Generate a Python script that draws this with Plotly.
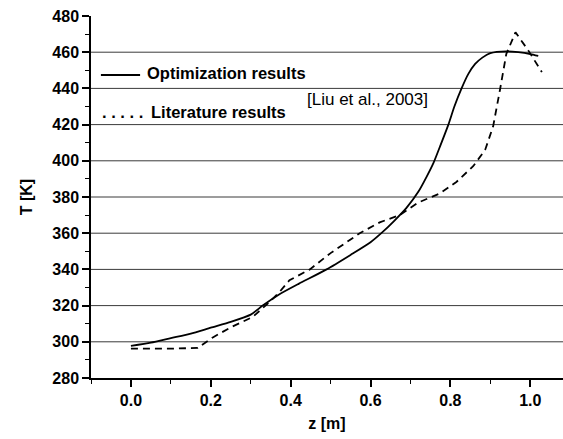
import plotly.graph_objects as go

# Optimization results
z_opt = [0.00, 0.05, 0.10, 0.15, 0.20, 0.25, 0.30, 0.33, 0.37, 0.42, 0.49, 0.55, 0.60, 0.627,
         0.66, 0.69, 0.72, 0.74, 0.758, 0.775, 0.795, 0.81, 0.828, 0.845, 0.862, 0.88, 0.90, 0.94, 0.97, 1.00, 1.02]
T_opt = [297.7, 299.5, 302.0, 304.5, 307.8, 311.0, 315.0, 320.0, 326.0, 332.0, 340.0, 348.0, 355.0, 360.0,
         367.0, 374.0, 383.0, 391.0, 399.0, 408.5, 420.0, 430.0, 440.0, 448.0, 453.5, 457.0, 459.5, 460.5, 460.0, 459.0, 458.0]

# Literature results [Liu et al., 2003]
z_lit = [0.00, 0.05, 0.10, 0.167, 0.204, 0.25, 0.305, 0.347, 0.372, 0.397, 0.448, 0.50, 0.54, 0.573,
         0.623, 0.673, 0.72, 0.774, 0.815, 0.857, 0.887, 0.907, 0.924, 0.94, 0.963, 0.995, 1.029]
T_lit = [296.2, 296.0, 296.2, 296.6, 302.3, 308.0, 313.7, 322.0, 327.5, 334.0, 340.0, 349.0, 355.0, 360.0,
         366.0, 370.0, 377.0, 382.0, 388.3, 397.0, 406.0, 419.0, 439.0, 459.0, 471.0, 461.0, 449.0]

grid_T = [300, 320, 340, 360, 380, 400, 420, 440, 460]
x_ticks = [0.0, 0.2, 0.4, 0.6, 0.8, 1.0]
x_labels = ["0.0", "0.2", "0.4", "0.6", "0.8", "1.0"]
y_ticks = [280, 300, 320, 340, 360, 380, 400, 420, 440, 460, 480]
y_labels = [str(v) for v in y_ticks]

FONT = "Liberation Sans, Arial, sans-serif"

fig = go.Figure()
fig.add_trace(go.Scatter(x=z_opt, y=T_opt, mode="lines", line=dict(color="black", width=1.8, shape="spline", smoothing=0.6),
                         name="Optimization results", showlegend=False))
fig.add_trace(go.Scatter(x=z_lit, y=T_lit, mode="lines", line=dict(color="black", width=1.8, dash="7px,5px"),
                         name="Literature results", showlegend=False))

shapes = []
for g in grid_T:
    shapes.append(dict(type="line", xref="paper", yref="y", x0=0, x1=1, y0=g, y1=g,
                       line=dict(color="#3a3a3a", width=1), layer="below"))
# legend sample (solid)
shapes.append(dict(type="line", xref="paper", yref="paper", x0=0.021, x1=0.104, y0=0.837, y1=0.837,
                   line=dict(color="black", width=1.8)))

annotations = [
    dict(text="<b>Optimization results</b>", xref="paper", yref="paper", x=0.115, y=0.842,
         xanchor="left", yanchor="middle", showarrow=False, font=dict(family=FONT, size=16.5, color="black")),
    dict(text="<b>. . . . .</b>", xref="paper", yref="paper", x=0.019, y=0.735,
         xanchor="left", yanchor="middle", showarrow=False, font=dict(family=FONT, size=16.5, color="black")),
    dict(text="<b>Literature results</b>", xref="paper", yref="paper", x=0.123, y=0.735,
         xanchor="left", yanchor="middle", showarrow=False, font=dict(family=FONT, size=16.5, color="black")),
    dict(text="[Liu et al., 2003]", xref="paper", yref="paper", x=0.453, y=0.768,
         xanchor="left", yanchor="middle", showarrow=False, font=dict(family=FONT, size=17, color="black")),
]

fig.update_layout(
    width=563, height=439,
    margin=dict(l=91, r=0, t=16, b=61),
    paper_bgcolor="white", plot_bgcolor="white",
    font=dict(family=FONT, color="black"),
    shapes=shapes, annotations=annotations,
    xaxis=dict(range=[-0.1, 1.082], tickvals=x_ticks, ticktext=["<b>%s</b>" % t for t in x_labels],
               ticks="outside", ticklen=7,
               tickwidth=1.5, tickcolor="black", showline=True, linecolor="black", linewidth=1.5,
               showgrid=False, zeroline=False,
               tickfont=dict(family=FONT, size=16, color="black"),
               minor=dict(dtick=0.1, ticks="outside", ticklen=4, tickwidth=1.2, tickcolor="black", showgrid=False),
               title=dict(text="<b>z [m]</b>", font=dict(family=FONT, size=16, color="black"), standoff=10)),
    yaxis=dict(range=[280, 480], tickvals=y_ticks, ticktext=["<b>%s</b>" % t for t in y_labels],
               ticks="outside", ticklen=7,
               tickwidth=1.5, tickcolor="black", showline=True, linecolor="black", linewidth=1.5,
               showgrid=False, zeroline=False,
               tickfont=dict(family=FONT, size=16, color="black"),
               minor=dict(dtick=10, ticks="outside", ticklen=4, tickwidth=1.2, tickcolor="black", showgrid=False),
               title=dict(text="<b>T [K]</b>", font=dict(family=FONT, size=16, color="black"), standoff=16)),
)

fig.write_html("out.html")
